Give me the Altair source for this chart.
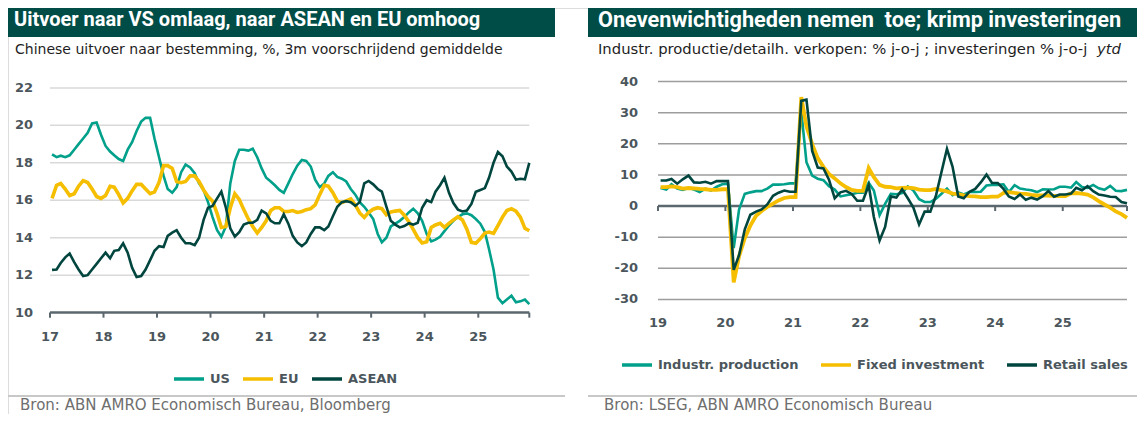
import altair as alt
import pandas as pd

# ---------------- data: left panel (monthly, Jan 2017 - Dec 2025) ----------------
left_series = ["US", "EU", "ASEAN"]
us = [18.45, 18.3, 18.38, 18.3, 18.4, 18.7, 19.0, 19.3, 19.6, 20.1, 20.15, 19.5,
      18.9, 18.6, 18.4, 18.2, 18.1, 18.7, 19.1, 19.7, 20.2, 20.4, 20.4, 19.3,
      18.3, 17.3, 16.6, 16.4, 16.7, 17.5, 17.9, 17.75, 17.45, 16.9, 16.55, 15.9,
      15.1, 14.4, 14.05, 14.6, 16.9, 18.1, 18.7, 18.7, 18.65, 18.75, 18.3, 17.7,
      17.2, 17.0, 16.8, 16.55, 16.4, 16.9, 17.4, 17.85, 18.15, 18.1, 17.8, 17.1,
      16.7, 16.9, 17.3, 17.5, 17.25, 17.15, 17.0, 16.6, 16.3, 15.9, 15.65, 15.35,
      15.0, 14.2, 13.75, 14.0, 14.6, 14.75, 14.9, 15.1, 15.35, 15.55, 15.3, 14.9,
      14.2, 13.8, 13.9, 14.05, 14.35, 14.65, 14.9, 15.1, 15.25, 15.3, 15.2, 15.0,
      14.75, 14.3, 13.4, 12.3, 10.8, 10.5, 10.7, 10.9, 10.55, 10.6, 10.7, 10.45]
eu = [16.1, 16.8, 16.9, 16.6, 16.25, 16.35, 16.75, 17.05, 16.95, 16.6, 16.2, 16.1,
      16.25, 16.75, 16.7, 16.3, 15.85, 16.1, 16.5, 16.85, 16.85, 16.6, 16.35, 16.45,
      16.95, 17.85, 17.85, 17.7, 17.0, 16.94, 17.0, 17.3, 17.3, 17.0, 16.55, 16.2,
      15.95, 15.3, 14.55, 14.6, 15.6, 16.35, 16.05, 15.5, 15.0, 14.6, 14.25, 14.55,
      14.9, 15.45, 15.6, 15.6, 15.4, 15.4, 15.45, 15.35, 15.4, 15.5, 15.55, 15.75,
      16.3, 16.8, 16.75, 16.4, 15.95, 15.87, 15.97, 16.07, 15.75, 15.32, 15.08, 15.35,
      15.52, 15.6, 15.55, 15.22, 15.37, 15.42, 15.46, 15.2, 14.85, 14.45, 14.0, 13.72,
      13.78, 14.55, 14.68, 14.77, 14.55, 14.77, 14.95, 15.12, 14.95, 14.45, 13.75, 13.7,
      13.95, 14.25, 14.3, 14.23, 14.65, 15.1, 15.45, 15.55, 15.42, 15.1, 14.5, 14.37]
asean = [12.28, 12.3, 12.65, 12.95, 13.15, 12.7, 12.3, 11.95, 12.0, 12.3, 12.6, 12.9,
         13.2, 12.9, 13.3, 13.34, 13.7, 13.2, 12.4, 11.9, 11.95, 12.3, 12.8, 13.3,
         13.55, 13.5, 14.1, 14.27, 14.4, 14.0, 13.7, 13.7, 13.6, 14.0, 14.95, 15.6,
         15.7, 16.1, 16.46, 15.6, 14.5, 14.06, 14.3, 14.7, 14.8, 14.8, 14.95, 15.45,
         15.3, 14.9, 14.77, 14.77, 15.25, 14.75, 14.1, 13.75, 13.55, 13.75, 14.2, 14.55,
         14.55, 14.4, 14.6, 15.15, 15.65, 15.9, 15.95, 15.9, 15.7, 15.9, 16.9, 17.03,
         16.85, 16.6, 16.46, 15.66, 14.9, 14.7, 14.55, 14.62, 14.77, 14.7, 14.8, 15.6,
         16.0, 15.9, 16.46, 16.8, 17.2, 16.4, 15.85, 15.5, 15.4, 15.45, 15.8, 16.45,
         16.55, 16.65, 17.2, 18.0, 18.58, 18.35, 17.8, 17.53, 17.1, 17.15, 17.12, 18.0]
left_start_year, left_months = 2017, 108
left_y_ticks = [10, 12, 14, 16, 18, 20, 22]
left_grid = [12, 14, 16, 18, 20, 22]
left_years = list(range(2017, 2026))
left_x_labels = ["17", "18", "19", "20", "21", "22", "23", "24", "25"]

# ---------------- data: right panel (monthly, Jan 2019 - Dec 2025) ----------------
right_series = ["Industr. production", "Fixed investment", "Retail sales"]
ip = [5.8, 5.3, 7.0, 5.6, 5.2, 5.8, 5.3, 4.5, 5.6, 5.0, 6.2, 7.0,
      7.2, -13.5, -1.1, 3.9, 4.4, 4.8, 4.8, 5.6, 6.9, 6.9, 7.0, 7.3,
      7.3, 30.5, 14.1, 9.8, 8.8, 8.3, 6.4, 5.3, 3.1, 3.5, 3.8, 4.3,
      4.3, 7.5, 5.0, -2.9, 0.7, 3.9, 3.8, 4.2, 6.3, 5.0, 2.2, 1.3,
      1.3, 2.4, 3.9, 5.6, 3.5, 4.4, 3.7, 4.5, 4.5, 4.6, 6.6, 6.8,
      6.8, 7.0, 4.5, 6.7, 5.6, 5.3, 5.1, 4.5, 5.4, 5.3, 5.4, 6.2,
      6.2, 5.9, 7.7, 6.1, 5.8, 6.8, 5.7, 5.2, 6.5, 4.9, 4.8, 5.2]
fai = [6.1, 6.1, 6.3, 6.1, 5.6, 5.8, 5.7, 5.5, 5.4, 5.2, 5.2, 5.4,
       5.4, -24.5, -16.1, -10.3, -6.3, -3.1, -1.6, -0.3, 0.8, 1.8, 2.6, 2.9,
       2.9, 35.0, 25.6, 19.9, 15.4, 12.6, 10.3, 8.9, 7.3, 6.1, 5.2, 4.9,
       4.9, 12.2, 9.3, 6.8, 6.2, 6.1, 5.7, 5.8, 5.9, 5.8, 5.3, 5.1,
       5.1, 5.5, 5.1, 4.7, 4.0, 3.8, 3.4, 3.2, 3.1, 2.9, 2.9, 3.0,
       3.0, 4.2, 4.5, 4.2, 4.0, 3.9, 3.6, 3.4, 3.4, 3.4, 3.3, 3.2,
       3.2, 4.1, 4.2, 4.0, 3.7, 2.8, 1.6, 0.5, -0.5, -1.7, -2.6, -3.8]
rs = [8.2, 8.2, 8.7, 7.2, 8.6, 9.8, 7.6, 7.5, 7.8, 7.2, 8.0, 8.0,
      8.0, -20.5, -15.8, -7.5, -2.8, -1.8, -1.1, 0.5, 3.3, 4.3, 5.0, 4.6,
      4.6, 33.8, 34.2, 17.7, 12.4, 12.1, 8.5, 2.5, 4.4, 4.9, 3.9, 1.7,
      1.7, 6.7, -3.5, -11.1, -6.7, 3.1, 2.7, 5.4, 2.5, -0.5, -5.9, -1.8,
      -1.8, 3.5, 10.6, 18.4, 12.7, 3.1, 2.5, 4.6, 5.5, 7.6, 10.1, 7.4,
      7.4, 5.5, 3.1, 2.3, 3.7, 2.0, 2.7, 2.1, 3.2, 4.8, 3.0, 3.7,
      3.7, 4.0, 5.9, 5.1, 6.4, 4.8, 3.7, 3.4, 3.0, 2.9, 1.3, 0.9]
right_start_year, right_months = 2019, 84
right_y_ticks = [-30, -20, -10, 0, 10, 20, 30, 40]
right_grid = [-30, -20, -10, 10, 20, 30, 40]
right_years = list(range(2019, 2026))
right_x_labels = ["19", "20", "21", "22", "23", "24", "25"]

# ---------------- texts ----------------
title_left = "Uitvoer naar VS omlaag, naar ASEAN en EU omhoog"
title_right = "Onevenwichtigheden nemen\u00a0 toe; krimp investeringen"
sub_left = "Chinese uitvoer naar bestemming, %, 3m voorschrijdend gemiddelde"
sub_right = "Industr. productie/detailh. verkopen: % j-o-j ; investeringen % j-o-j"
sub_right_it = "ytd"
src_left = "Bron: ABN AMRO Economisch Bureau, Bloomberg"
src_right = "Bron: LSEG, ABN AMRO Economisch Bureau"

# ---------------- style ----------------
BANNER = "#004D47"
TEAL = "#00A08A"
YELLOW = "#F5BE00"
DARK = "#00463F"
AXIS_TXT = "#4B565C"
AXIS_LINE = "#5B676E"
FONT = "DejaVu Sans"
TFONT = "Roboto"
W, H = 1129, 406


def month_dates(y0, n):
    return [f"{y0 + i // 12}-{i % 12 + 1:02d}-15" for i in range(n)]


def dt(y, m, d):
    return alt.DateTime(year=y, month=m, date=d)


left_df = pd.DataFrame({
    "date": month_dates(left_start_year, left_months) * 3,
    "value": us + eu + asean,
    "series": [s for s in left_series for _ in range(left_months)],
})
right_df = pd.DataFrame({
    "date": month_dates(right_start_year, right_months) * 3,
    "value": ip + fai + rs,
    "series": [s for s in right_series for _ in range(right_months)],
})


def tick_text(df, x, y, align):
    return alt.Chart(df).mark_text(
        align=align, baseline="middle", font=FONT, fontSize=13, fontWeight="bold", color=AXIS_TXT
    ).encode(x=x, y=y, text="lab:N")


# ---------------- left panel ----------------
l_start, l_end = dt(2017, 1, 1), dt(2025, 12, 15)
lx_scale = alt.Scale(domain=[l_start, l_end], range=[42, 521.3])
ly_scale = alt.Scale(domain=[10, 22], range=[304.6, 79.9], nice=False, zero=False)
lcolor = alt.Scale(domain=left_series, range=[TEAL, YELLOW, DARK])

left_legend = alt.Legend(
    orient="none", legendX=164, legendY=354, direction="horizontal", title=None,
    symbolType="stroke", symbolSize=900, symbolStrokeWidth=3.5, labelFont=FONT,
    labelFontSize=13, labelFontWeight="bold", labelColor=AXIS_TXT, columnPadding=6, labelOffset=4,
)

l_grid = alt.Chart(pd.DataFrame({"v": left_grid})).mark_rule(color="#D9D9D9", strokeWidth=1.5).encode(
    y=alt.Y("v:Q", scale=ly_scale, axis=None),
    x=alt.X(datum=l_start, type="temporal", scale=lx_scale, axis=None),
    x2=alt.X2(datum=l_end),
)
l_axis_line = alt.Chart(pd.DataFrame({"v": [left_y_ticks[0]]})).mark_rule(
    color=AXIS_LINE, strokeWidth=2.5).encode(
    y=alt.Y("v:Q", scale=ly_scale, axis=None),
    x=alt.X(datum=l_start, type="temporal", scale=lx_scale, axis=None),
    x2=alt.X2(datum=l_end),
)
l_tick_df = pd.DataFrame({"d": [f"{y}-01-01" for y in left_years] + ["2025-12-15"]})
l_ticks = alt.Chart(l_tick_df).mark_rule(color=AXIS_LINE, strokeWidth=2).encode(
    x=alt.X("d:T", scale=lx_scale, axis=None),
    y=alt.Y(datum=left_y_ticks[0], scale=ly_scale, axis=None),
    y2=alt.Y2(datum=left_y_ticks[0] - 0.27),
)
l_ylabels = tick_text(
    pd.DataFrame({"v": left_y_ticks, "lab": [str(v) for v in left_y_ticks]}),
    alt.value(25), alt.Y("v:Q", scale=ly_scale, axis=None), "right")
l_xlabels = tick_text(
    pd.DataFrame({"d": [f"{y}-01-01" for y in left_years], "lab": left_x_labels}),
    alt.X("d:T", scale=lx_scale, axis=None), alt.value(329), "center")


def left_line(name, width):
    return alt.Chart(left_df[left_df.series == name]).mark_line(strokeWidth=width).encode(
        x=alt.X("date:T", scale=lx_scale, axis=None),
        y=alt.Y("value:Q", scale=ly_scale, axis=None),
        color=alt.Color("series:N", scale=lcolor, legend=left_legend),
    )


left = alt.layer(l_grid, l_axis_line, l_ticks, l_ylabels, l_xlabels,
                 left_line("US", 2.6), left_line("EU", 3.6), left_line("ASEAN", 2.6))

# ---------------- right panel ----------------
r_start, r_end = dt(2019, 1, 1), dt(2025, 12, 15)
rx_scale = alt.Scale(domain=[r_start, r_end], range=[650, 1119])
ry_scale = alt.Scale(domain=[-30, 40], range=[291.4, 73.6], nice=False, zero=False)
rcolor = alt.Scale(domain=right_series, range=[TEAL, YELLOW, DARK])

right_legend = alt.Legend(
    orient="none", legendX=612, legendY=340, direction="horizontal", title=None,
    symbolType="stroke", symbolSize=900, symbolStrokeWidth=3.5, labelFont=FONT,
    labelFontSize=13, labelFontWeight="bold", labelColor=AXIS_TXT, columnPadding=15, labelOffset=4,
)

r_grid = alt.Chart(pd.DataFrame({"v": right_grid})).mark_rule(color="#9D9D9D", strokeWidth=1.5).encode(
    y=alt.Y("v:Q", scale=ry_scale, axis=None),
    x=alt.X(datum=r_start, type="temporal", scale=rx_scale, axis=None),
    x2=alt.X2(datum=r_end),
)
r_zero = alt.Chart(pd.DataFrame({"v": [0]})).mark_rule(color=AXIS_LINE, strokeWidth=2.5).encode(
    y=alt.Y("v:Q", scale=ry_scale, axis=None),
    x=alt.X(datum=r_start, type="temporal", scale=rx_scale, axis=None),
    x2=alt.X2(datum=r_end),
)
r_tick_df = pd.DataFrame({"d": [f"{y}-01-01" for y in right_years] + ["2025-12-15"]})
r_ticks = alt.Chart(r_tick_df).mark_rule(color=AXIS_LINE, strokeWidth=2).encode(
    x=alt.X("d:T", scale=rx_scale, axis=None),
    y=alt.Y(datum=0, scale=ry_scale, axis=None),
    y2=alt.Y2(datum=-1.6),
)
r_ylabels = tick_text(
    pd.DataFrame({"v": right_y_ticks, "lab": [str(v) for v in right_y_ticks]}),
    alt.value(630), alt.Y("v:Q", scale=ry_scale, axis=None), "right")
r_xlabels = tick_text(
    pd.DataFrame({"d": [f"{y}-01-01" for y in right_years], "lab": right_x_labels}),
    alt.X("d:T", scale=rx_scale, axis=None), alt.value(315), "center")


def right_line(name, width):
    return alt.Chart(right_df[right_df.series == name]).mark_line(strokeWidth=width).encode(
        x=alt.X("date:T", scale=rx_scale, axis=None),
        y=alt.Y("value:Q", scale=ry_scale, axis=None),
        color=alt.Color("series:N", scale=rcolor, legend=right_legend),
    )


right = alt.layer(r_grid, r_zero, r_ticks, r_ylabels, r_xlabels,
                  right_line("Industr. production", 2.6),
                  right_line("Fixed investment", 3.8), right_line("Retail sales", 2.6))

# ---------------- decorations (banners, subtitles, sources) ----------------
one = pd.DataFrame({"k": [0]})


def banner(x0, x1):
    return alt.Chart(one).mark_rect(color=BANNER).encode(
        x=alt.value(x0), x2=alt.value(x1), y=alt.value(0), y2=alt.value(29))


def txt(text, x, y, size, color, weight="normal", style="normal", font=FONT):
    return alt.Chart(pd.DataFrame({"t": [text]})).mark_text(
        align="left", baseline="middle", font=font, fontSize=size, fontWeight=weight,
        fontStyle=style, color=color,
    ).encode(x=alt.value(x), y=alt.value(y), text="t:N")


def sep(x0, x1, y):
    return alt.Chart(one).mark_rule(color="#C8C8C8", strokeWidth=2).encode(
        x=alt.value(x0), x2=alt.value(x1), y=alt.value(y))


deco = alt.layer(
    banner(0, 547), banner(580, 1140),
    txt(title_left, 6, 12, 20, "white", "bold", font=TFONT),
    txt(title_right, 590, 12, 21.7, "white", "bold", font=TFONT),
    txt(sub_left, 7, 42, 14, "#1E1E1E"),
    txt(sub_right, 590, 42, 14.8, "#1E1E1E"),
    txt(sub_right_it, 1089, 42, 14.8, "#1E1E1E", style="italic"),
    sep(0, 557, 388), sep(580, 1140, 388),
    txt(src_left, 12, 397, 15, "#6E6E6E"),
    txt(src_right, 596, 397, 15, "#6E6E6E"),
)

chart = alt.layer(deco, left, right).resolve_scale(
    x="independent", y="independent", color="independent"
).properties(
    width=W, height=H, padding=0, autosize=alt.AutoSizeParams(type="none"),
).configure_view(strokeWidth=0).configure(background="white")

chart.save("out.html", embed_options={"renderer": "svg", "actions": False})
